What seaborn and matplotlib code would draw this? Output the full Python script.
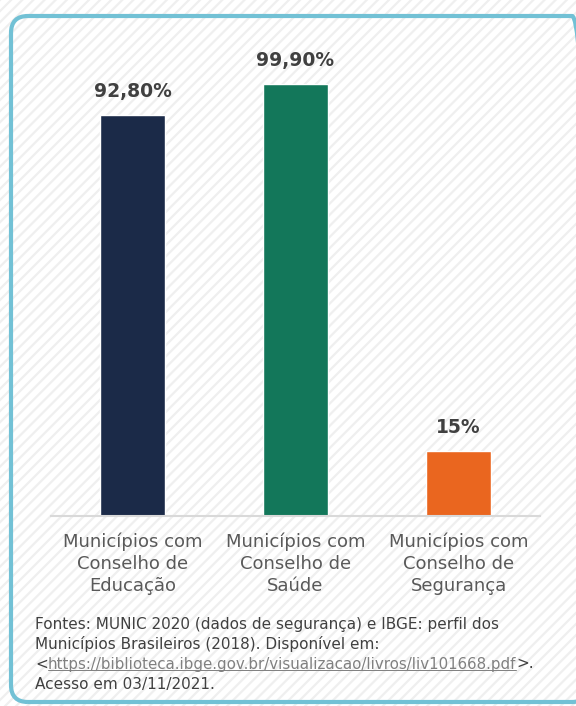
import matplotlib
matplotlib.use("Agg")
import matplotlib.pyplot as plt
from matplotlib.patches import FancyBboxPatch, Rectangle
from matplotlib.lines import Line2D
import seaborn as sns
import pandas as pd

# dados
categorias = ["Municípios com\nConselho de\nEducação",
              "Municípios com\nConselho de\nSaúde",
              "Municípios com\nConselho de\nSegurança"]
valores = [92.8, 99.9, 15.0]
rotulos = ["92,80%", "99,90%", "15%"]
cores = ["#1b2a48", "#13775a", "#ea661f"]

fonte_l1 = "Fontes: MUNIC 2020 (dados de segurança) e IBGE: perfil dos"
fonte_l2 = "Municípios Brasileiros (2018). Disponível em:"
fonte_link = "https://biblioteca.ibge.gov.br/visualizacao/livros/liv101668.pdf"
fonte_l4 = "Acesso em 03/11/2021."

sns.set_theme(style="white")
plt.rcParams['font.family'] = ['DejaVu Sans']

df = pd.DataFrame({"cat": categorias, "val": valores})

fig = plt.figure(figsize=(5.76, 7.06), dpi=100)
fig.patch.set_facecolor("white")
W, H = 576, 706

# fundo hachurado
plt.rcParams['hatch.linewidth'] = 1.6
bg = Rectangle((0, 0), 1, 1, transform=fig.transFigure, facecolor="white",
               edgecolor="#efefef", hatch="///", lw=0, zorder=-10)
fig.add_artist(bg)

# moldura arredondada
box = FancyBboxPatch((11 / W, 4 / H), 578 / W, 686 / H,
                     boxstyle="round,pad=0,rounding_size=%f" % (17 / W),
                     mutation_aspect=W / H,
                     transform=fig.transFigure, facecolor="none",
                     edgecolor="#72c1d5", lw=3, zorder=-5)
fig.add_artist(box)

ax = fig.add_axes([51 / W, 190 / H, 489 / W, 432 / H])
ax.set_facecolor("none")
sns.barplot(data=df, x="cat", y="val", hue="cat", palette=cores,
            width=0.4, legend=False, ax=ax, saturation=1)
ax.set_ylim(0, 100)
ax.set_xlim(-0.5, 2.5)

for i, (v, r) in enumerate(zip(valores, rotulos)):
    ax.annotate(r, (i, v), xytext=(0, 17), textcoords="offset points",
                ha="center", va="center", fontsize=13.5, fontweight="bold",
                color="#404040", annotation_clip=False)

for s in ["top", "right", "left"]:
    ax.spines[s].set_visible(False)
ax.spines["bottom"].set_color("#d9d9d9")
ax.spines["bottom"].set_linewidth(1.5)
ax.set_yticks([])
ax.set_xlabel("")
ax.set_ylabel("")
ax.tick_params(axis="x", length=0, pad=12)
for t in ax.get_xticklabels():
    t.set_fontsize(13)
    t.set_color("#595959")
    t.set_linespacing(1.29)
    t.set_va("top")

# rodapé
x0 = 35 / W
fsz = 11
cor_txt = "#404040"
fig.text(x0, 1 - 624 / H, fonte_l1, fontsize=fsz, color=cor_txt, va="center")
fig.text(x0, 1 - 644 / H, fonte_l2, fontsize=fsz, color=cor_txt, va="center")
fig.text(x0, 1 - 684 / H, fonte_l4, fontsize=fsz, color=cor_txt, va="center")

y3 = 1 - 664 / H
fig.canvas.draw()
rend = fig.canvas.get_renderer()
inv = fig.transFigure.inverted()
t1 = fig.text(x0, y3, "<", fontsize=fsz, color=cor_txt, va="center")
bb1 = t1.get_window_extent(rend)
xl = inv.transform((bb1.x1, 0))[0]
t2 = fig.text(xl, y3, fonte_link, fontsize=10.8, color="#808080", va="center")
bb2 = t2.get_window_extent(rend)
xe = inv.transform((bb2.x1, 0))[0]
fig.text(xe, y3, ">.", fontsize=fsz, color=cor_txt, va="center")
yu = inv.transform((0, bb2.y0 + 2))[1]
fig.add_artist(Line2D([xl, xe], [yu, yu], transform=fig.transFigure,
                      color="#808080", lw=0.7))

fig.savefig("out.png", dpi=100)
